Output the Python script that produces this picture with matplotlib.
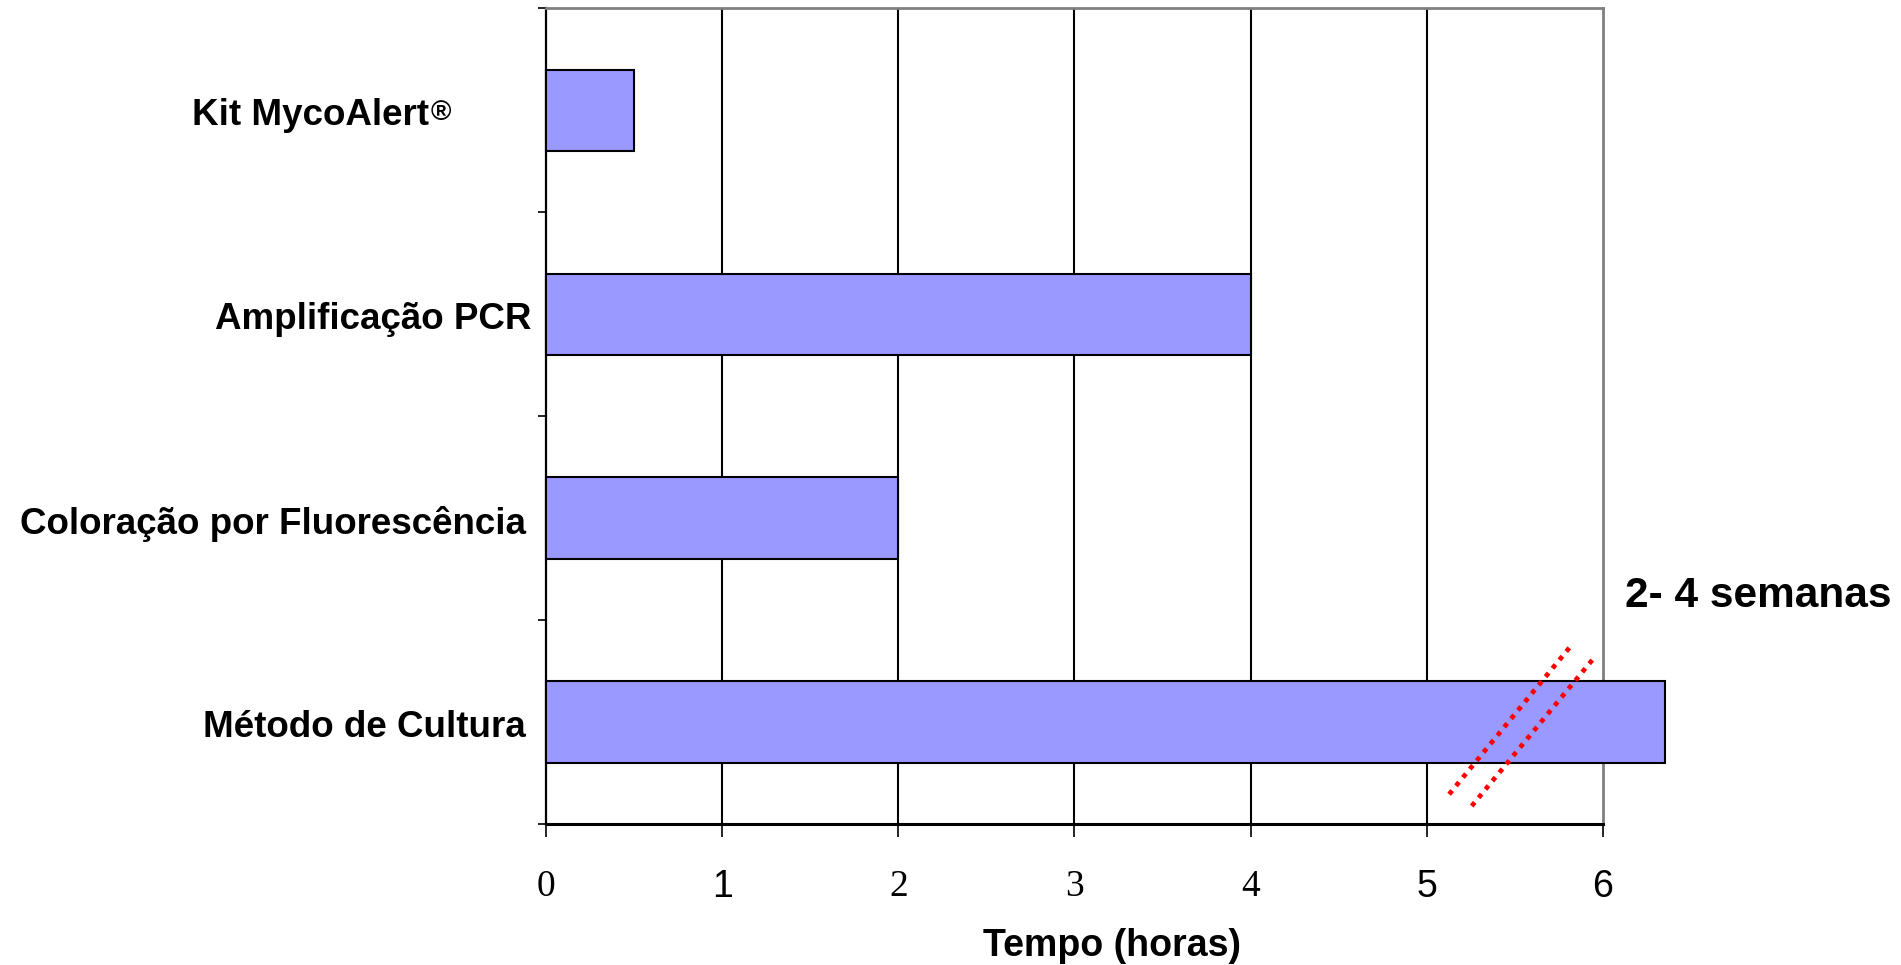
import numpy as np
import matplotlib
matplotlib.use('Agg')
import matplotlib.pyplot as plt

# categories listed bottom to top
methods = ['Método de Cultura', 'Coloração por Fluorescência', 'Amplificação PCR', 'Kit MycoAlert']
hours = [6.35, 2, 4, 0.5]
xticks = [0, 1, 2, 3, 4, 5, 6]
tick_fonts = ['Liberation Serif', 'Liberation Sans', 'Liberation Serif', 'Liberation Serif',
              'Liberation Serif', 'Liberation Sans', 'Liberation Sans']
# red "break" marks across the culture bar
break1_x = [5.127, 5.827]
break1_y = [0.146, 0.883]
break2_x = [5.255, 5.960]
break2_y = [0.088, 0.826]
note = '2- 4 semanas'
xlabel = 'Tempo (horas)'

# label gaps from the y axis (pixels)
label_gap = [20, 20, 15, 117]

fig = plt.figure(figsize=(19.01, 9.65), dpi=100)
ax = fig.add_axes([0.2872, 0.1461, 0.5560, 0.8451])

ypos = np.arange(len(methods)) + 0.5

# vertical grid lines
ax.vlines(xticks[1:-1], 0, len(methods), color='black', lw=1.5, zorder=1)

ax.barh(ypos, hours, height=0.4, color='#9999FF', edgecolor='black',
        linewidth=1.5, zorder=3, clip_on=False)

ax.plot(break1_x, break1_y, color='red', lw=3.4, linestyle=(0, (1, 1.3)), zorder=4)
ax.plot(break2_x, break2_y, color='red', lw=3.4, linestyle=(0, (1, 1.3)), zorder=4)

ax.set_xlim(0, 6)
ax.set_ylim(0, len(methods))

ax.spines['left'].set_linewidth(1.6)
ax.spines['bottom'].set_linewidth(2.2)
for s in ['top', 'right']:
    ax.spines[s].set_color('#808080')
    ax.spines[s].set_linewidth(2)

ax.set_xticks(xticks)
ax.set_xticklabels([str(t) for t in xticks])
for lab, fam in zip(ax.get_xticklabels(), tick_fonts):
    lab.set_family(fam)
ax.tick_params(axis='x', direction='out', length=9.4, width=1.2, pad=23, labelsize=27)

ax.set_yticks(np.arange(len(methods) + 1))
ax.set_yticklabels([])
ax.tick_params(axis='y', direction='out', length=5.8, width=1.2)

texts = []
for i, name in enumerate(methods):
    t = ax.annotate(name, xy=(0, ypos[i]), xycoords=('axes fraction', 'data'),
                    xytext=(-label_gap[i] * 0.72, -4), textcoords='offset points',
                    ha='right', va='center', fontsize=26.5, fontweight='bold',
                    family='Liberation Sans')
    texts.append(t)

# registered sign on the kit label
ax.annotate('®', xy=(1, 1), xycoords=texts[3], xytext=(1, -1), textcoords='offset points',
            ha='left', va='top', fontsize=20, fontweight='bold', family='Liberation Sans')

fig.text(1625 / 1901, 1 - 596 / 965, note, ha='left', va='center', fontsize=30.5,
         fontweight='bold', family='Liberation Sans')
fig.text(1112 / 1901, 1 - 946 / 965, xlabel, ha='center', va='center', fontsize=27,
         fontweight='bold', family='Liberation Sans')

fig.savefig('out.png', dpi=100)
